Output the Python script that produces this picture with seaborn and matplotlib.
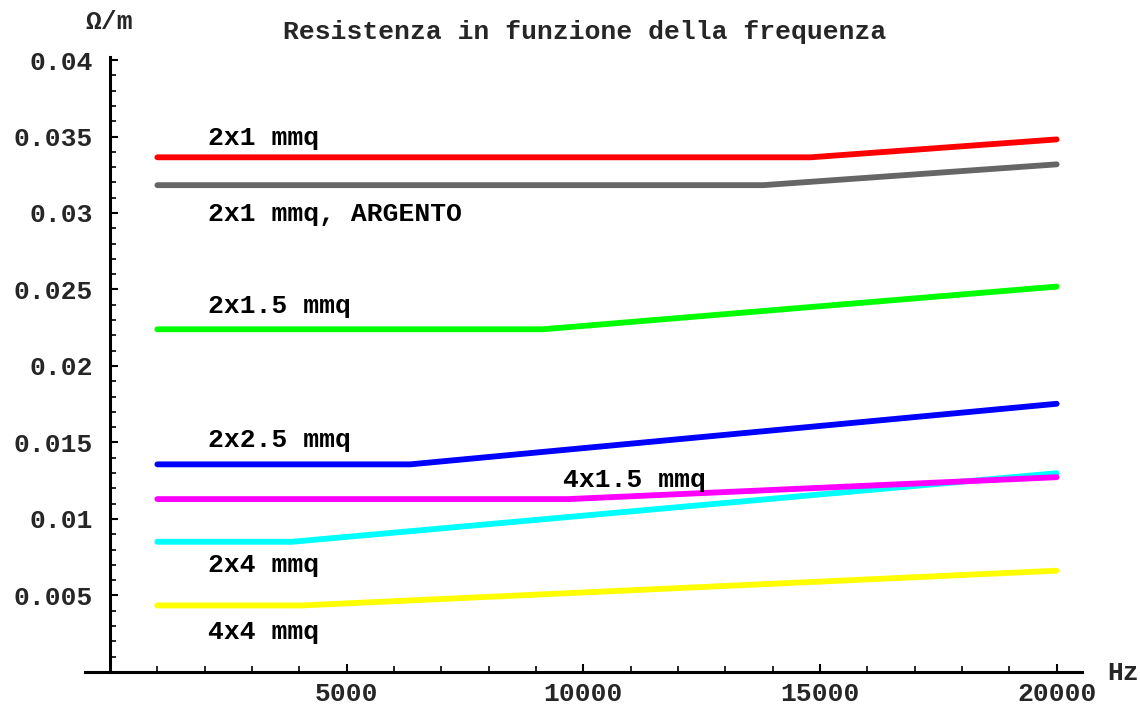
import matplotlib
matplotlib.use('Agg')
import matplotlib.pyplot as plt
import matplotlib.ticker as mticker
import numpy as np
import pandas as pd
import seaborn as sns

# cable section labels and read-off values (Hz, ohm/m)
labels = ['2x1 mmq', '2x1 mmq, ARGENTO', '2x1.5 mmq', '2x2.5 mmq', '2x4 mmq', '4x1.5 mmq', '4x4 mmq']
colors = ['#ff0000', '#666666', '#00ff00', '#0000ff', '#00ffff', '#ff00ff', '#ffff00']

freq_2x1 = [1000, 14800, 20000]
res_2x1 = [0.03364, 0.03364, 0.03481]
freq_2x1_ag = [1000, 13800, 20000]
res_2x1_ag = [0.03182, 0.03182, 0.03318]
freq_2x15 = [1000, 9150, 20000]
res_2x15 = [0.02240, 0.02240, 0.02519]
freq_2x25 = [1000, 6340, 20000]
res_2x25 = [0.01357, 0.01357, 0.01753]
freq_2x4 = [1000, 3850, 20000]
res_2x4 = [0.00851, 0.00851, 0.01299]
freq_4x15 = [1000, 9680, 20000]
res_4x15 = [0.01130, 0.01130, 0.01273]
freq_4x4 = [1000, 4060, 20000]
res_4x4 = [0.00435, 0.00435, 0.00662]

series = [(freq_2x1, res_2x1), (freq_2x1_ag, res_2x1_ag), (freq_2x15, res_2x15),
          (freq_2x25, res_2x25), (freq_2x4, res_2x4), (freq_4x15, res_4x15), (freq_4x4, res_4x4)]

# label anchors (left x, centre y)
label_pos = [(2070, 0.03487), (2070, 0.02994), (2070, 0.0239), (2070, 0.01513),
             (2070, 0.00701), (9570, 0.01253), (2070, 0.0026)]

y_ticks = [0.005, 0.01, 0.015, 0.02, 0.025, 0.03, 0.035, 0.04]
y_tick_labels = ['0.005', '0.01', '0.015', '0.02', '0.025', '0.03', '0.035', '0.04']
x_ticks = [5000, 10000, 15000, 20000]

sns.set_theme(style='white')
plt.rcParams['font.family'] = ['Liberation Mono', 'DejaVu Sans Mono']
plt.rcParams['font.weight'] = 'bold'

FS = 19

fig = plt.figure(figsize=(11.4, 7.11), dpi=100)
ax = fig.add_axes([0.0746, 0.0549, 0.8745, 0.865])

for (f, r), c in zip(series, colors):
    df = pd.DataFrame({'f': f, 'r': r})
    sns.lineplot(data=df, x='f', y='r', color=c, linewidth=4.2, ax=ax,
                 estimator=None, sort=False)

for lab, (lx, ly) in zip(labels, label_pos):
    ax.text(lx, ly, lab, fontsize=FS, fontweight='bold', ha='left', va='center', color='black')

ax.set_xlim(-528, 20535)
ax.set_ylim(0, 0.0402)
ax.spines['left'].set_position(('data', 0))
ax.spines['right'].set_visible(False)
ax.spines['top'].set_visible(False)
for s in ['left', 'bottom']:
    ax.spines[s].set_color('black')
    ax.spines[s].set_linewidth(2.2)

ax.set_xticks(x_ticks)
ax.set_xticklabels([str(t) for t in x_ticks])
ax.set_yticks(y_ticks)
ax.set_yticklabels(y_tick_labels)
ax.xaxis.set_minor_locator(mticker.MultipleLocator(1000))
ax.yaxis.set_minor_locator(mticker.MultipleLocator(0.001))
ax.tick_params(which='major', direction='in', length=6, width=1.5, color='black',
               labelsize=FS, bottom=True, left=True)
ax.tick_params(axis='y', which='major', pad=12)
ax.tick_params(axis='x', which='major', pad=7)
ax.tick_params(which='minor', direction='in', length=4, width=1.2, color='black',
               bottom=True, left=True)
for t in ax.get_xticklabels() + ax.get_yticklabels():
    t.set_fontweight('bold')
ax.set_xlabel('')
ax.set_ylabel('')

fig.text(0.513, 0.955, 'Resistenza in funzione della frequenza', fontsize=FS,
         fontweight='bold', ha='center', va='center')
fig.text(0.096, 0.969, 'Ω/m', fontsize=FS, fontweight='bold', ha='center', va='center')
fig.text(0.985, 0.053, 'Hz', fontsize=FS, fontweight='bold', ha='center', va='center')

fig.savefig('out.png', dpi=100)
